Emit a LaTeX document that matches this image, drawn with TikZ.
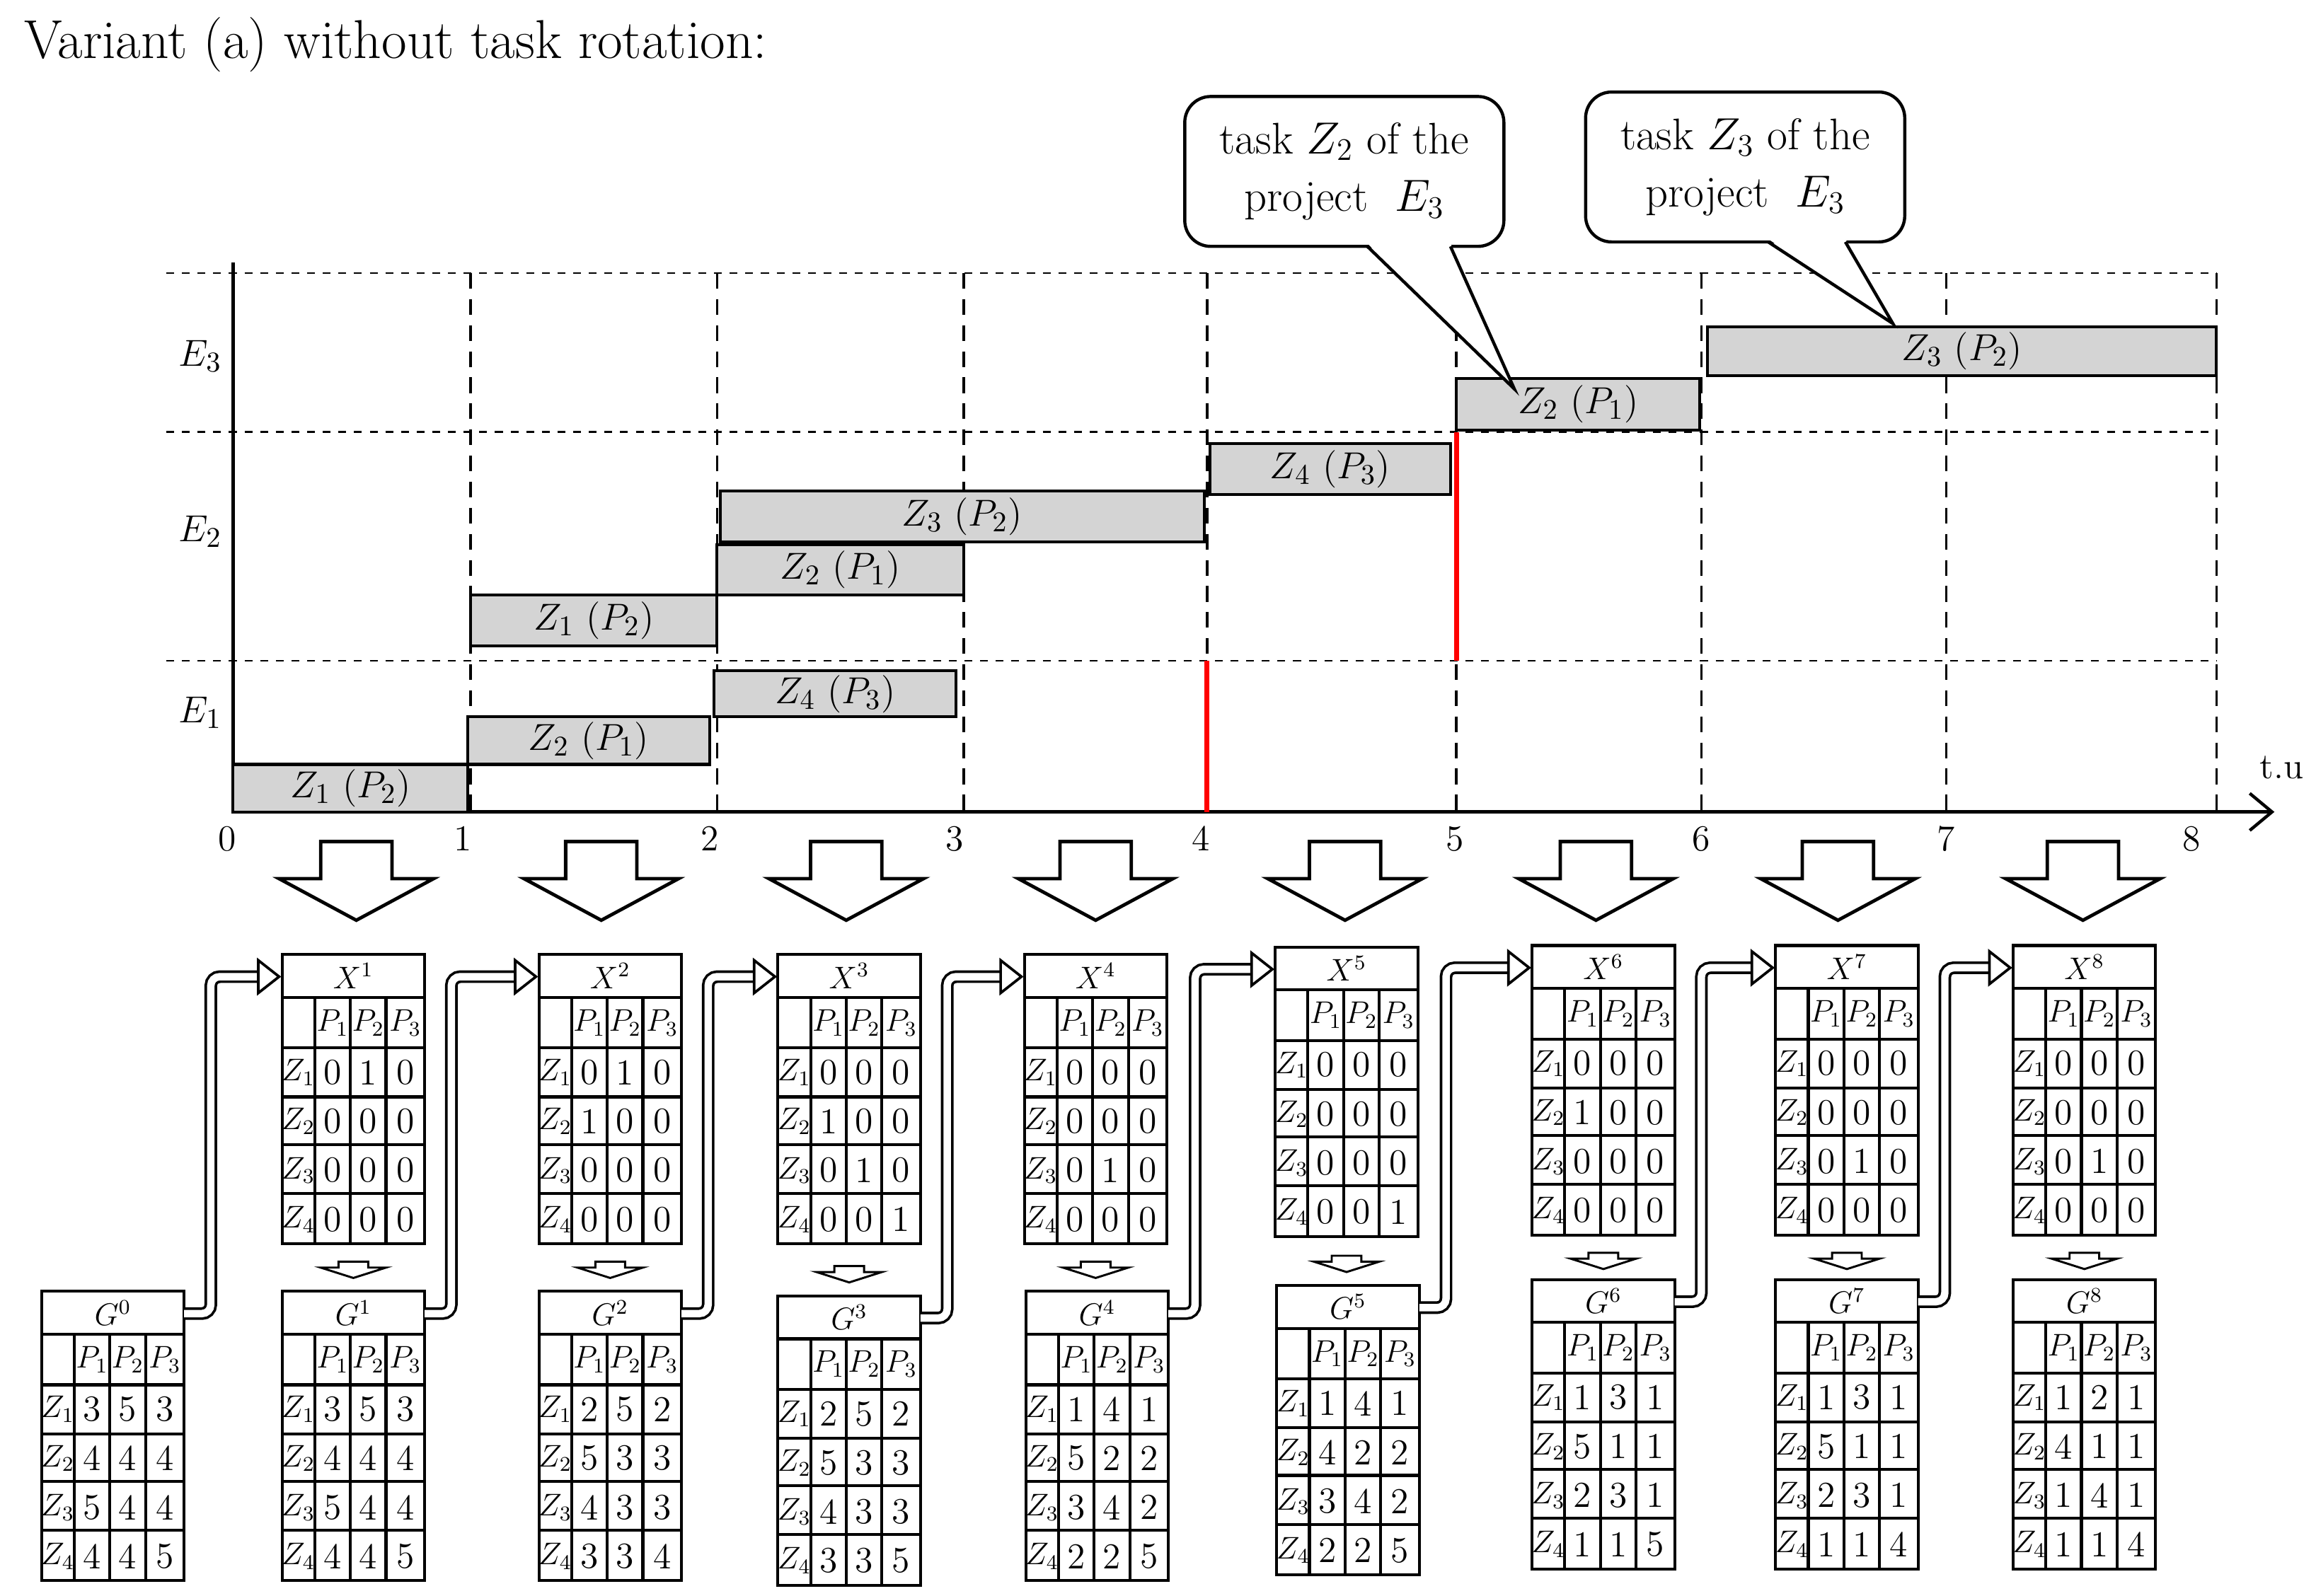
\documentclass[tikz,border=0pt]{standalone}
\usetikzlibrary{arrows.meta,calc}
\begin{document}
\begin{tikzpicture}[x=0.02cm,y=-0.02cm,
  tl/.style={line width=1.1pt},
  bar/.style={draw,fill=black!17,line width=1.1pt},
  blk/.style={draw,fill=white,line width=1.3pt,line join=miter},
  bentarr/.style={draw,line width=1pt,double=white,double distance=0.1cm,rounded corners=0.12cm},
  dig/.style={font=\fontsize{14}{16}\selectfont},
  lab/.style={font=\fontsize{12}{14}\selectfont}]
\useasboundingbox (0,0) rectangle (1560,1075);
\newcommand\mytab[5]{%
\begin{scope}[shift={(#1,#2)}]
\draw[tl] (0,0) rectangle (96,195);
\foreach \yy in {29,63,96,128,161} \draw[tl] (0,\yy)--(96,\yy);
\foreach \xx in {22,46,70} \draw[tl] (\xx,29)--(\xx,195);
\node[lab] at (48,14.5) {$#3$};
\node[lab] at (34,46) {$P_1$};\node[lab] at (58,46) {$P_2$};\node[lab] at (83,46) {$P_3$};
\foreach \a/\b/\c [count=\i] in {#4} {
 \pgfmathsetmacro\yy{46.5+33*\i}
 \node[lab] at (11,\yy) {$Z_{\i}$};
 \node[dig] at (34,\yy) {\a};\node[dig] at (58,\yy) {\b};\node[dig] at (83,\yy) {\c};}
\coordinate (#5-l) at (0,15);
\coordinate (#5-r) at (96,15);
\end{scope}}
\newcommand\gbar[5]{\draw[bar] (#1,#2) rectangle (#3,#4);
 \node[font=\fontsize{15}{17}\selectfont] at ({(#1+#3)/2},{(#2+#4)/2}) {$#5$};}
% title
\node[anchor=west,font=\fontsize{21}{25}\selectfont] (title) at (10,30) {Variant (a) without task rotation:};
% grid
\foreach \yy in {184,291,445} \draw[dashed,line width=0.6pt] (112,\yy)--(1493,\yy);
\foreach \xx in {317,483,649,813,981,1146,1311,1493} \draw[dash pattern=on 6pt off 4pt,line width=1pt] (\xx,184)--(\xx,547);
\draw[line width=1.2pt] (157,177)--(157,547);
\draw[line width=1.2pt,-{Straight Barb[length=0.3cm,width=0.5cm]}] (157,547)--(1532,547);
\node[font=\fontsize{14}{16}\selectfont] (tu) at (1537,517) {t.u};
\foreach \t/\xx in {0/153,1/312,2/478,3/643,4/809,5/980,6/1146,7/1311,8/1476}
 \node[font=\fontsize{14}{16}\selectfont] at (\xx,565) {\t};
\node[font=\fontsize{15}{17}\selectfont] (e3) at (135,240) {$E_3$};
\node[font=\fontsize{15}{17}\selectfont] (e2) at (135,358) {$E_2$};
\node[font=\fontsize{15}{17}\selectfont] (e1) at (135,480) {$E_1$};
% red
\draw[red,line width=2pt] (813,445)--(813,547);
\draw[red,line width=2pt] (981,291)--(981,445);
% bars
\gbar{157}{515}{315}{547}{Z_1\ (P_2)}
\gbar{315}{483}{478}{515}{Z_2\ (P_1)}
\gbar{481}{452}{644}{483}{Z_4\ (P_3)}
\gbar{317}{401}{483}{435}{Z_1\ (P_2)}
\gbar{483}{367}{649}{401}{Z_2\ (P_1)}
\gbar{485}{331}{811}{365}{Z_3\ (P_2)}
\gbar{815}{299}{977}{333}{Z_4\ (P_3)}
\gbar{981}{255}{1145}{290}{Z_2\ (P_1)}
\gbar{1150}{220}{1493}{253}{Z_3\ (P_2)}
% callouts
\node[draw,line width=1.2pt,rounded corners=0.35cm,minimum width=4.3cm,minimum height=2.02cm,align=center,font=\fontsize{17}{22}\selectfont] (c1) at (905.5,115.5) {task $Z_2$ of the\\project\ \ $E_3$};
\fill[white] (921,164)--(1020,262)--(977,164)--cycle;
\draw[line width=1.2pt] (921,166)--(1020,262)--(977,166);
\node[draw,line width=1.2pt,rounded corners=0.35cm,minimum width=4.3cm,minimum height=2.02cm,align=center,font=\fontsize{17}{22}\selectfont] (c2) at (1175.5,112.5) {task $Z_3$ of the\\project\ \ $E_3$};
\fill[white] (1191,161)--(1275,218)--(1243,161)--cycle;
\draw[line width=1.2pt] (1191,163)--(1275,218)--(1243,163);
% big arrows
\foreach \cx in {240,405,570,738,906,1075,1238,1403}
 \draw[blk] (\cx-24,567)--(\cx+24,567)--(\cx+24,592)--(\cx+52,592)--(\cx,620)--(\cx-52,592)--(\cx-24,592)--cycle;
% tables
\mytab{28}{870}{G^0}{3/5/3,4/4/4,5/4/4,4/4/5}{g0}
\mytab{190}{643}{X^1}{0/1/0,0/0/0,0/0/0,0/0/0}{x1}
\mytab{190}{870}{G^1}{3/5/3,4/4/4,5/4/4,4/4/5}{g1}
\mytab{363}{643}{X^2}{0/1/0,1/0/0,0/0/0,0/0/0}{x2}
\mytab{363}{870}{G^2}{2/5/2,5/3/3,4/3/3,3/3/4}{g2}
\mytab{524}{643}{X^3}{0/0/0,1/0/0,0/1/0,0/0/1}{x3}
\mytab{524}{873}{G^3}{2/5/2,5/3/3,4/3/3,3/3/5}{g3}
\mytab{690}{643}{X^4}{0/0/0,0/0/0,0/1/0,0/0/0}{x4}
\mytab{691}{870}{G^4}{1/4/1,5/2/2,3/4/2,2/2/5}{g4}
\mytab{859}{638}{X^5}{0/0/0,0/0/0,0/0/0,0/0/1}{x5}
\mytab{860}{866}{G^5}{1/4/1,4/2/2,3/4/2,2/2/5}{g5}
\mytab{1032}{637}{X^6}{0/0/0,1/0/0,0/0/0,0/0/0}{x6}
\mytab{1032}{862}{G^6}{1/3/1,5/1/1,2/3/1,1/1/5}{g6}
\mytab{1196}{637}{X^7}{0/0/0,0/0/0,0/1/0,0/0/0}{x7}
\mytab{1196}{862}{G^7}{1/3/1,5/1/1,2/3/1,1/1/4}{g7}
\mytab{1356}{637}{X^8}{0/0/0,0/0/0,0/1/0,0/0/0}{x8}
\mytab{1356}{862}{G^8}{1/2/1,4/1/1,1/4/1,1/1/4}{g8}
% small arrows X->G
\foreach \cx/\yb in {238/842,411/842,572/845,738/842,907/838,1080/836,1244/836,1404/836}
 \draw[line width=0.8pt,fill=white] (\cx-10,\yb+8)--(\cx+10,\yb+8)--(\cx+10,\yb+12)--(\cx+22,\yb+12)--(\cx,\yb+19)--(\cx-22,\yb+12)--(\cx-10,\yb+12)--cycle;
% bent arrows G(k-1) -> X(k)
\foreach \a/\b in {g0/x1,g1/x2,g2/x3,g3/x4,g4/x5,g5/x6,g6/x7,g7/x8}{
 \path (\a-r) ++(18,0) coordinate (m1);
 \path (\b-l) ++(-16,0) coordinate (m2);
 \draw[bentarr] (\a-r) -- (m1) -- (m1 |- m2) -- (m2);
 \draw[line width=1pt,fill=white] ($(m2)+(0,-11)$) -- ($(\b-l)+(-2,0)$) -- ($(m2)+(0,11)$) -- cycle;
}
\end{tikzpicture}
\end{document}
